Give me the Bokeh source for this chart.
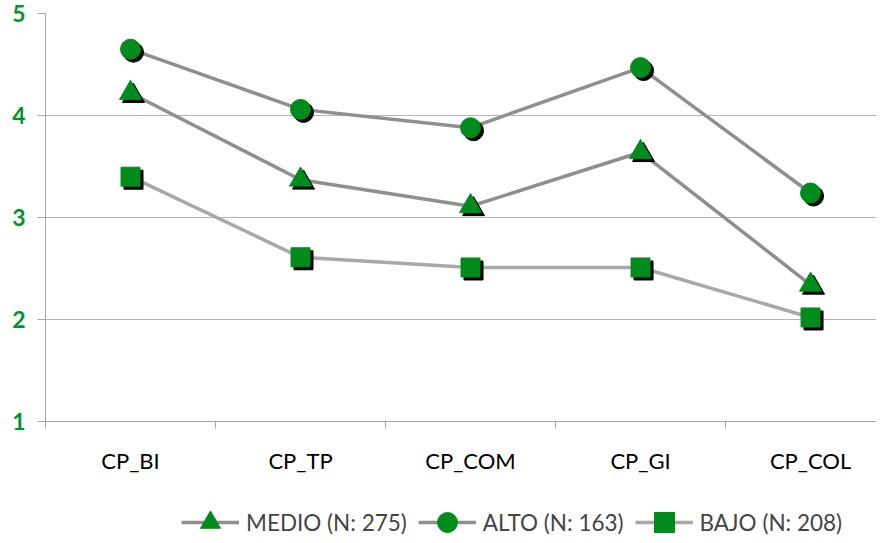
import numpy as np
from bokeh.plotting import figure
from bokeh.layouts import column
from bokeh.models import FixedTicker, Legend, LegendItem, Range1d
from bokeh.embed import file_html
from bokeh.resources import INLINE

categories = ["CP_BI", "CP_TP", "CP_COM", "CP_GI", "CP_COL"]
medio = [4.22, 3.37, 3.11, 3.64, 2.34]
alto = [4.65, 4.06, 3.88, 4.47, 3.24]
bajo = [3.40, 2.61, 2.51, 2.51, 2.02]
series_names = ["MEDIO (N: 275)", "ALTO (N: 163)", "BAJO (N: 208)"]
y_ticks = [1, 2, 3, 4, 5]

GREEN = "#008c1c"
LABEL_GREEN = "#00952a"
FONT = "Lato"

xs = np.arange(len(categories), dtype=float)

p = figure(width=876, height=486, output_backend="svg", toolbar_location=None,
           x_range=Range1d(-0.5, 4.388), y_range=Range1d(1, 5),
           min_border_left=45, min_border_top=13, min_border_bottom=65,
           min_border_right=0)
p.outline_line_color = None
p.background_fill_color = "white"
p.border_fill_color = "white"

# axes
p.xaxis.ticker = FixedTicker(ticks=list(xs), minor_ticks=list(np.arange(-0.5, 5, 1.0)))
p.xaxis.major_label_overrides = {i: c for i, c in enumerate(categories)}
p.xaxis.major_tick_out = 0
p.xaxis.major_tick_in = 0
p.xaxis.minor_tick_out = 7
p.xaxis.minor_tick_in = 0
p.xaxis.minor_tick_line_color = "#a6a6a6"
p.xaxis.axis_line_color = "#a6a6a6"
p.xaxis.major_label_text_font = FONT
p.xaxis.major_label_text_font_size = "22px"
p.xaxis.major_label_text_color = "black"
p.xaxis.major_label_standoff = 18

p.yaxis.ticker = FixedTicker(ticks=y_ticks)
p.yaxis.minor_tick_line_color = None
p.yaxis.major_tick_out = 8
p.yaxis.major_tick_in = 0
p.yaxis.major_tick_line_color = "#a6a6a6"
p.yaxis.axis_line_color = "#a6a6a6"
p.yaxis.major_label_text_font = FONT
p.yaxis.major_label_text_font_size = "23px"
p.yaxis.major_label_text_font_style = "bold"
p.yaxis.major_label_text_color = LABEL_GREEN
p.yaxis.major_label_standoff = 12

p.xgrid.grid_line_color = None
p.ygrid.grid_line_color = "#b4b4b4"
p.ygrid.grid_line_width = 1

dx = 3 / 170.0
dy = 3 / 102.0

specs = [
    (medio, "triangle", 22, "#8f8f8f"),
    (alto, "circle", 20, "#8f8f8f"),
    (bajo, "square", 19, "#a8a8a8"),
]

for vals, marker, size, lc in specs:
    p.line(xs, vals, line_color=lc, line_width=3.5)

for vals, marker, size, lc in specs:
    v = np.array(vals)
    p.scatter(xs + dx, v - dy, marker=marker, size=size, fill_color="black", line_color="black")
    p.scatter(xs, v, marker=marker, size=size, fill_color=GREEN, line_color=GREEN)

# legend strip: proxies plotted from the same series, outside its visible range
lf = figure(width=876, height=49, output_backend="svg", toolbar_location=None,
            x_range=Range1d(0, 1), y_range=Range1d(10, 11),
            x_axis_type=None, y_axis_type=None,
            min_border_left=0, min_border_right=0, min_border_top=0, min_border_bottom=0)
lf.outline_line_color = None
lf.xgrid.grid_line_color = None
lf.ygrid.grid_line_color = None

items = []
for (vals, marker, size, lc), name in zip(specs, series_names):
    lr = lf.line(xs, vals, line_color=lc, line_width=3.5)
    mr = lf.scatter(xs, vals, marker=marker, size=size, fill_color=GREEN, line_color=GREEN)
    items.append(LegendItem(label=name, renderers=[lr, mr]))

legend = Legend(items=items, orientation="horizontal", location=(136, -12),
                label_text_font=FONT, label_text_font_size="22.5px",
                glyph_width=58, glyph_height=50, spacing=11, label_standoff=7,
                border_line_color=None, background_fill_alpha=0, margin=0,
                padding=0)
lf.add_layout(legend, "center")

open("out.html", "w").write(file_html(column(p, lf, spacing=0), INLINE))
